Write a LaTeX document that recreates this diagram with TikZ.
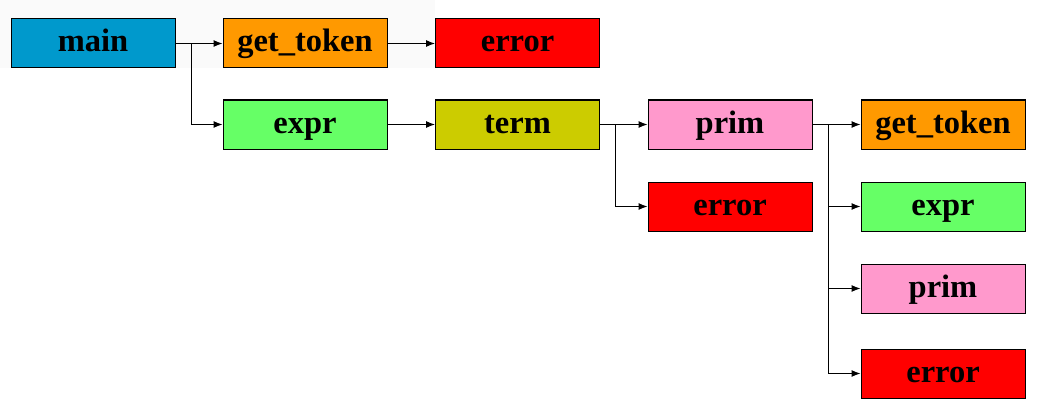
\documentclass[tikz,border=0pt]{standalone}
\usepackage{fontspec}
\setmainfont{Liberation Serif}
\usetikzlibrary{arrows.meta}
\definecolor{cmain}{HTML}{0099CC}
\definecolor{ctok}{HTML}{FF9900}
\definecolor{cerr}{HTML}{FF0000}
\definecolor{cexpr}{HTML}{66FF66}
\definecolor{cterm}{HTML}{CCCC00}
\definecolor{cprim}{HTML}{FF99CC}
\definecolor{cbg}{HTML}{FAFAFA}
\begin{document}
\begin{tikzpicture}[x=1pt,y=-1pt,
  fn/.style={draw=black, line width=1pt, minimum width=164pt, minimum height=49pt, inner sep=0pt, text height=24pt, text depth=7pt, font=\fontsize{32.5}{36}\selectfont\bfseries},
  link/.style={draw=black, line width=1pt, -{Latex[length=9pt,width=7pt]}}]
\useasboundingbox (0,0) rectangle (1042,412);
\fill[cbg] (0,0) rectangle (435,68);
\node[fn, fill=cmain] (main) at (93,43.5) {main};
\node[fn, fill=ctok] (tok1) at (305,43.5) {get\_token};
\node[fn, fill=cerr] (err1) at (517.5,43.5) {error};
\node[fn, fill=cexpr] (expr1) at (305,124.5) {expr};
\node[fn, fill=cterm] (term) at (517.5,124.5) {term};
\node[fn, fill=cprim] (prim1) at (730,124.5) {prim};
\node[fn, fill=cerr] (err2) at (730,206.5) {error};
\node[fn, fill=ctok] (tok2) at (943,124.5) {get\_token};
\node[fn, fill=cexpr] (expr2) at (943,206.5) {expr};
\node[fn, fill=cprim] (prim2) at (943,288.5) {prim};
\node[fn, fill=cerr] (err3) at (943,373.5) {error};
\coordinate (b1) at (191.5,43.5);
\coordinate (b2) at (615.5,124.5);
\coordinate (b3) at (828.5,124.5);
\draw[link] (main.east) -- (tok1.west);
\draw[link] (b1) |- (expr1.west);
\draw[link] (tok1.east) -- (err1.west);
\draw[link] (expr1.east) -- (term.west);
\draw[link] (term.east) -- (prim1.west);
\draw[link] (b2) |- (err2.west);
\draw[link] (prim1.east) -- (tok2.west);
\draw[link] (b3) |- (expr2.west);
\draw[link] (b3) |- (prim2.west);
\draw[link] (b3) |- (err3.west);
\end{tikzpicture}
\end{document}
